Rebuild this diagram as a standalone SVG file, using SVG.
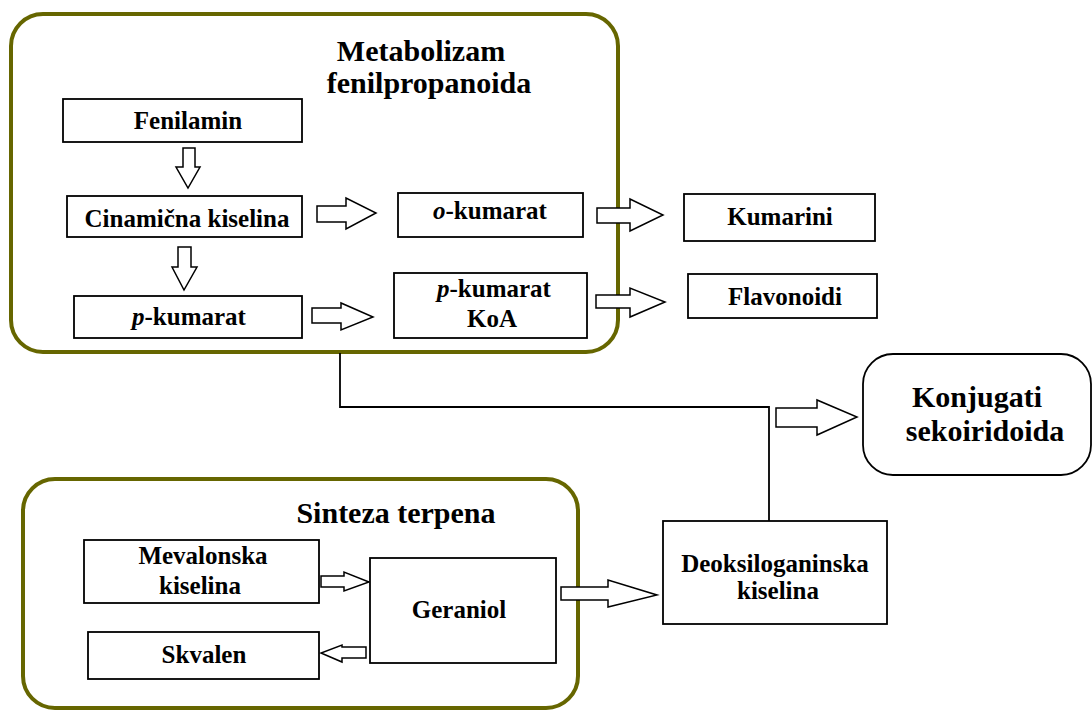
<svg xmlns="http://www.w3.org/2000/svg" width="1092" height="711" viewBox="0 0 1092 711">
<style>
.cont{fill:none;stroke:#666600;stroke-width:4}
.box{fill:#fff;stroke:#000;stroke-width:1.8}
.rbox{fill:#fff;stroke:#000;stroke-width:1.8}
.arr{fill:#fff;stroke:#000;stroke-width:1.5;stroke-linejoin:miter}
.line{fill:none;stroke:#000;stroke-width:1.8}
text{font-weight:bold;fill:#000;text-anchor:middle}
.t{font-size:25px}
.h{font-size:30px}
</style>
<rect width="1092" height="711" fill="#fff"/>
<g font-family="Liberation Serif, DejaVu Serif, serif">
<g id="metabolizam-fenilpropanoida">
<rect class="cont" x="11" y="14" width="607" height="338" rx="32"/>
<text class="h" x="421" y="61">Metabolizam</text>
<text class="h" x="429" y="93">fenilpropanoida</text>
</g>
<g id="sinteza-terpena">
<rect class="cont" x="23" y="479" width="555" height="229" rx="32"/>
<text class="h" x="396" y="523">Sinteza terpena</text>
</g>
<g id="connectors">
<polyline class="line" points="340,353 340,407 769,407 769,521"/>
<polygon class="arr" points="183,148 195,148 195,167 200,167 188,188 176,167 183,167"/>
<polygon class="arr" points="178,247 191,247 191,267 197,267 184,290 172,267 178,267"/>
<polygon class="arr" points="317,206 346,206 346,198 376,213 346,229 346,222 317,222"/>
<polygon class="arr" points="312,308 341,308 341,303 373,317 341,330 341,323 312,323"/>
<polygon class="arr" points="597,208 630,208 630,199 663,215 630,231 630,223 597,223"/>
<polygon class="arr" points="596,295 630,295 630,288 665,302 630,317 630,308 596,308"/>
<polygon class="arr" points="776,408 817,408 817,400 857,417 817,435 817,427 776,427"/>
<polygon class="arr" points="321,576 344,576 344,572 369,582 344,591 344,587 321,587"/>
<polygon class="arr" points="366,647 342,647 342,645 321,653 342,662 342,658 366,658"/>
<polygon class="arr" points="561,587 608,587 608,580 657,595 608,607 608,600 561,600"/>
</g>
<g id="fenilamin">
<rect class="box" x="63" y="99" width="239" height="43"/>
<text class="t" x="188" y="129">Fenilamin</text>
</g>
<g id="cinamicna-kiselina">
<rect class="box" x="67" y="196" width="235" height="41"/>
<text class="t" x="187" y="227">Cinamična kiselina</text>
</g>
<g id="o-kumarat">
<rect class="box" x="398" y="193" width="185" height="44"/>
<text class="t" x="490" y="219"><tspan font-style="italic">o</tspan>-kumarat</text>
</g>
<g id="p-kumarat">
<rect class="box" x="74" y="296" width="228" height="42"/>
<text class="t" x="189" y="325"><tspan font-style="italic">p</tspan>-kumarat</text>
</g>
<g id="p-kumarat-koa">
<rect class="box" x="394" y="273" width="193" height="65"/>
<text class="t" x="494" y="297"><tspan font-style="italic">p</tspan>-kumarat</text>
<text class="t" x="492" y="327">KoA</text>
</g>
<g id="kumarini">
<rect class="box" x="684" y="194" width="191" height="47"/>
<text class="t" x="780" y="225">Kumarini</text>
</g>
<g id="flavonoidi">
<rect class="box" x="688" y="274" width="189" height="44"/>
<text class="t" x="785" y="305">Flavonoidi</text>
</g>
<g id="konjugati-sekoiridoida">
<rect class="rbox" x="863" y="354" width="228" height="121" rx="30"/>
<text class="h" x="977" y="407">Konjugati</text>
<text class="h" x="985" y="441">sekoiridoida</text>
</g>
<g id="mevalonska-kiselina">
<rect class="box" x="84" y="540" width="235" height="63"/>
<text class="t" x="203" y="564">Mevalonska</text>
<text class="t" x="200" y="594">kiselina</text>
</g>
<g id="geraniol">
<rect class="box" x="370" y="558" width="186" height="105"/>
<text class="t" x="459" y="618">Geraniol</text>
</g>
<g id="skvalen">
<rect class="box" x="88" y="632" width="231" height="47"/>
<text class="t" x="204" y="663">Skvalen</text>
</g>
<g id="deoksiloganinska-kiselina">
<rect class="box" x="663" y="521" width="224" height="103"/>
<text class="t" x="775" y="572">Deoksiloganinska</text>
<text class="t" x="778" y="599">kiselina</text>
</g>
</g>
</svg>
